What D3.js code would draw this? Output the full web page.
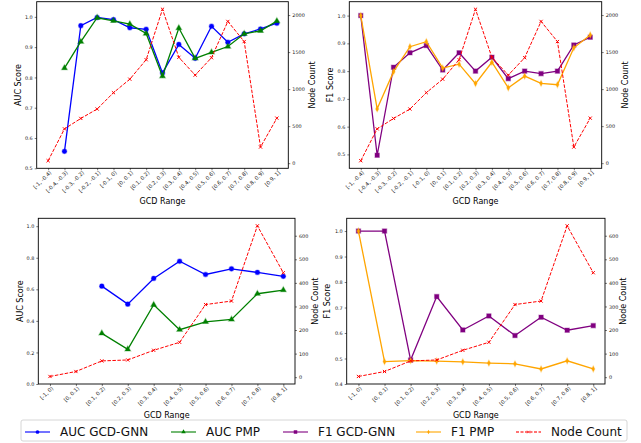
<!DOCTYPE html>
<html>
<head>
<meta charset="utf-8">
<script src="https://cdn.jsdelivr.net/npm/d3@7"></script>
<style>
  body { margin: 0; background: #fff; }
  svg { display: block; font-family: "DejaVu Sans", sans-serif; }
</style>
</head>
<body>
<script>
// GCD range bins
var topCats = ["[-1, -0.4)", "[-0.4, -0.3)", "[-0.3, -0.2)", "[-0.2, -0.1)", "[-0.1, 0)", "[0, 0.1)",
  "[0.1, 0.2)", "[0.2, 0.3)", "[0.3, 0.4)", "[0.4, 0.5)", "[0.5, 0.6)", "[0.6, 0.7)", "[0.7, 0.8)",
  "[0.8, 0.9)", "[0.9, 1]"];
var bottomCats = ["[-1, 0)", "[0, 0.1)", "[0.1, 0.2)", "[0.2, 0.3)", "[0.3, 0.4)", "[0.4, 0.5)",
  "[0.5, 0.6)", "[0.6, 0.7)", "[0.7, 0.8)", "[0.8, 1]"];

// top row series
var topAucGcd = [null, 0.556, 0.971, 0.998, 0.991, 0.964, 0.959, 0.815, 0.909, 0.863, 0.969, 0.916, 0.944, 0.960, 0.979];
var topAucPmp = [null, 0.831, 0.918, 0.997, 0.987, 0.976, 0.945, 0.804, 0.963, 0.863, 0.883, 0.902, 0.944, 0.954, 0.986];
var topF1Gcd = [1.0, 0.497, 0.814, 0.866, 0.892, 0.804, 0.866, 0.800, 0.850, 0.773, 0.800, 0.791, 0.800, 0.894, 0.922];
var topF1Pmp = [1.0, 0.664, 0.798, 0.888, 0.906, 0.811, 0.825, 0.755, 0.832, 0.740, 0.782, 0.756, 0.751, 0.884, 0.930];
var topNodes = [33, 463, 604, 731, 952, 1134, 1397, 2078, 1429, 1189, 1424, 1914, 1642, 218, 608];

// bottom row series
var bottomAucGcd = [null, null, 0.620, 0.506, 0.669, 0.778, 0.694, 0.730, 0.707, 0.682];
var bottomAucPmp = [null, null, 0.321, 0.220, 0.502, 0.344, 0.394, 0.409, 0.572, 0.595];
var bottomF1Gcd = [1.0, 1.0, 0.494, 0.743, 0.612, 0.667, 0.590, 0.662, 0.611, 0.629];
var bottomF1Pmp = [1.0, 0.488, 0.492, 0.490, 0.487, 0.482, 0.479, 0.459, 0.491, 0.459];
var bottomNodes = [3, 24, 69, 73, 114, 148, 308, 323, 642, 443];

var legendLabels = ["AUC GCD-GNN", "AUC PMP", "F1 GCD-GNN", "F1 PMP", "Node Count"];

var svg = d3.select("body").append("svg")
    .attr("width", 641)
    .attr("height", 443);

var thinDiamond = "M0,-2.9L1.5,0L0,2.9L-1.5,0Z";
var xMark = "M-1.6,-1.6L1.6,1.6M-1.6,1.6L1.6,-1.6";

var styles = {
  aucGcd: {color: "blue", marker: d3.symbol(d3.symbolCircle, 17)()},
  aucPmp: {color: "green", marker: d3.symbol(d3.symbolTriangle, 14)()},
  f1Gcd: {color: "purple", marker: d3.symbol(d3.symbolSquare, 19)()},
  f1Pmp: {color: "orange", marker: thinDiamond}
};

function panel(p) {
  var w = p.right - p.left, h = p.bottom - p.top;
  var g = svg.append("g").attr("transform", "translate(" + p.left + "," + p.top + ")");

  var x = d3.scalePoint().domain(p.cats).range([0, w]).padding(0.05 * (p.cats.length - 1));
  var y = d3.scaleLinear().domain(p.yDomain).range([h, 0]);
  var nMin = d3.min(p.nodes), nMax = d3.max(p.nodes), pad = (nMax - nMin) * 0.05;
  var y2 = d3.scaleLinear().domain([nMin - pad, nMax + pad]).range([h, 0]);

  // left axis
  var ax = g.append("g")
      .call(d3.axisLeft(y).tickValues(p.yTicks).tickFormat(d3.format(".1f")).tickSize(2).tickPadding(2));
  // right axis
  var ax2 = g.append("g")
      .attr("transform", "translate(" + w + ",0)")
      .call(d3.axisRight(y2).tickValues(p.nTicks).tickFormat(d3.format("d")).tickSize(2).tickPadding(2));
  // x axis
  var ax3 = g.append("g")
      .attr("transform", "translate(0," + h + ")")
      .call(d3.axisBottom(x).tickSize(2).tickPadding(2));
  [ax, ax2, ax3].forEach(function(a) {
    a.select(".domain").remove();
    a.selectAll("text").attr("font-size", 4.9).attr("fill", "#222").attr("font-family", "DejaVu Sans");
    a.selectAll("line").attr("stroke", "#222").attr("stroke-width", 0.6);
  });
  ax3.selectAll("text")
      .attr("font-size", 5.3)
      .style("text-anchor", "end")
      .attr("dx", "-0.2em")
      .attr("dy", "0.3em")
      .attr("transform", "rotate(-45)");

  // score series
  p.series.forEach(function(s) {
    var st = styles[s.key];
    var pts = s.values.map(function(v, i) { return {c: p.cats[i], v: v}; })
        .filter(function(d) { return d.v != null; });
    g.append("path")
        .datum(pts)
        .attr("fill", "none")
        .attr("stroke", st.color)
        .attr("stroke-width", 1.3)
        .attr("d", d3.line().x(function(d) { return x(d.c); }).y(function(d) { return y(d.v); }));
    g.selectAll(null)
        .data(pts)
        .enter().append("path")
        .attr("d", st.marker)
        .attr("transform", function(d) { return "translate(" + x(d.c) + "," + y(d.v) + ")"; })
        .attr("fill", st.color)
        .attr("stroke", st.color)
        .attr("stroke-opacity", 0.35)
        .attr("stroke-width", 1.2);
  });

  // node count
  var npts = p.nodes.map(function(v, i) { return {c: p.cats[i], v: v}; });
  g.append("path")
      .datum(npts)
      .attr("fill", "none")
      .attr("stroke", "red")
      .attr("stroke-width", 1)
      .attr("stroke-dasharray", "3.5,1.5")
      .attr("d", d3.line().x(function(d) { return x(d.c); }).y(function(d) { return y2(d.v); }));
  g.selectAll(null)
      .data(npts)
      .enter().append("path")
      .attr("d", xMark)
      .attr("transform", function(d) { return "translate(" + x(d.c) + "," + y2(d.v) + ")"; })
      .attr("fill", "none")
      .attr("stroke", "red")
      .attr("stroke-width", 1);

  // frame
  g.append("rect")
      .attr("width", w).attr("height", h)
      .attr("fill", "none").attr("stroke", "black").attr("stroke-width", 0.9);

  // axis labels
  g.append("text")
      .attr("transform", "translate(" + (p.yLabelX - p.left) + "," + (h / 2) + ") rotate(-90)")
      .attr("text-anchor", "middle").attr("dy", "0.35em")
      .attr("font-size", 8).text(p.yLabel);
  g.append("text")
      .attr("transform", "translate(" + (p.nLabelX - p.left) + "," + (h / 2) + ") rotate(-90)")
      .attr("text-anchor", "middle").attr("dy", "0.35em")
      .attr("font-size", 8).text("Node Count");
  g.append("text")
      .attr("x", w / 2).attr("y", p.xLabelY - p.top)
      .attr("text-anchor", "middle")
      .attr("font-size", 8).text("GCD Range");
}

panel({left: 36.7, right: 288.3, top: 1.7, bottom: 168.3, cats: topCats,
  yDomain: [0.5, 1.05], yTicks: [0.5, 0.6, 0.7, 0.8, 0.9, 1.0], nodes: topNodes, nTicks: [0, 500, 1000, 1500, 2000],
  series: [{key: "aucGcd", values: topAucGcd}, {key: "aucPmp", values: topAucPmp}],
  yLabel: "AUC Score", yLabelX: 18.3, nLabelX: 311.7, xLabelY: 204});

panel({left: 349.3, right: 601.7, top: 1.7, bottom: 168.3, cats: topCats,
  yDomain: [0.45, 1.05], yTicks: [0.5, 0.6, 0.7, 0.8, 0.9, 1.0], nodes: topNodes, nTicks: [0, 500, 1000, 1500, 2000],
  series: [{key: "f1Gcd", values: topF1Gcd}, {key: "f1Pmp", values: topF1Pmp}],
  yLabel: "F1 Score", yLabelX: 330, nLabelX: 625, xLabelY: 204});

panel({left: 38.3, right: 295, top: 218.3, bottom: 384, cats: bottomCats,
  yDomain: [0, 1.05], yTicks: [0, 0.2, 0.4, 0.6, 0.8, 1.0], nodes: bottomNodes, nTicks: [0, 100, 200, 300, 400, 500, 600],
  series: [{key: "aucGcd", values: bottomAucGcd}, {key: "aucPmp", values: bottomAucPmp}],
  yLabel: "AUC Score", yLabelX: 20, nLabelX: 315, xLabelY: 418});

panel({left: 346.7, right: 605, top: 218.3, bottom: 384, cats: bottomCats,
  yDomain: [0.4, 1.05], yTicks: [0.4, 0.5, 0.6, 0.7, 0.8, 0.9, 1.0], nodes: bottomNodes, nTicks: [0, 100, 200, 300, 400, 500, 600],
  series: [{key: "f1Gcd", values: bottomF1Gcd}, {key: "f1Pmp", values: bottomF1Pmp}],
  yLabel: "F1 Score", yLabelX: 326.7, nLabelX: 623, xLabelY: 418});

// Legend
var legend = svg.append("g");
legend.append("rect")
    .attr("x", 21).attr("y", 420).attr("width", 606).attr("height", 21).attr("rx", 2)
    .attr("fill", "white").attr("stroke", "#cccccc").attr("stroke-width", 0.8);

var legendX = [25, 171, 283, 416, 516];
var legendKeys = ["aucGcd", "aucPmp", "f1Gcd", "f1Pmp", "nodes"];
legendKeys.forEach(function(k, i) {
  var lx = legendX[i], ly = 432;
  var color = k === "nodes" ? "red" : styles[k].color;
  legend.append("line")
      .attr("x1", lx).attr("x2", lx + 25).attr("y1", ly).attr("y2", ly)
      .attr("stroke", color).attr("stroke-opacity", 0.55).attr("stroke-width", 2)
      .attr("stroke-dasharray", k === "nodes" ? "3,1.5" : null);
  legend.append("path")
      .attr("d", k === "nodes" ? xMark : styles[k].marker)
      .attr("transform", "translate(" + (lx + 12.5) + "," + ly + ") scale(0.8)")
      .attr("fill", k === "nodes" ? "none" : color)
      .attr("stroke", k === "nodes" ? color : "none")
      .attr("stroke-width", 1);
  legend.append("text")
      .attr("x", lx + 35).attr("y", ly).attr("dy", "0.35em")
      .attr("font-size", 12).attr("fill", "#111")
      .text(legendLabels[i]);
});
</script>
</body>
</html>
